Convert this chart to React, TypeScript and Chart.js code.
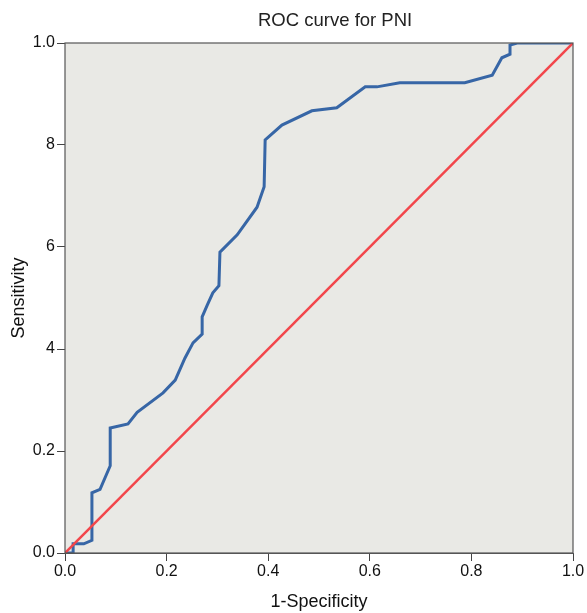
import React, { useEffect, useRef } from "react";
import { Chart, registerables } from "chart.js";

Chart.register(...registerables);

const fprValues = [0, 0.016, 0.016, 0.037, 0.053, 0.053, 0.069, 0.089, 0.089, 0.124, 0.142, 0.193, 0.217, 0.236, 0.252, 0.270, 0.270, 0.280, 0.291, 0.303, 0.305, 0.339, 0.378, 0.392, 0.394, 0.427, 0.486, 0.535, 0.561, 0.591, 0.614, 0.659, 0.787, 0.841, 0.860, 0.876, 0.876, 0.890, 1.0];
const tprValues = [0, 0, 0.018, 0.018, 0.025, 0.118, 0.125, 0.171, 0.245, 0.253, 0.276, 0.314, 0.339, 0.382, 0.412, 0.429, 0.463, 0.486, 0.510, 0.524, 0.590, 0.624, 0.678, 0.718, 0.810, 0.839, 0.867, 0.873, 0.892, 0.914, 0.914, 0.922, 0.922, 0.937, 0.971, 0.978, 0.996, 1.0, 1.0];
const refX = [0, 1];
const refY = [0, 1];
const xTickLabels = ["0.0", "0.2", "0.4", "0.6", "0.8", "1.0"];
const yTickLabels = ["0.0", "0.2", "4", "6", "8", "1.0"];
const chartTitle = "ROC curve for PNI";
const xTitle = "1-Specificity";
const yTitle = "Sensitivity";

const FONT = "'Liberation Sans', Arial, sans-serif";

const frame = {
  id: "frame",
  beforeDatasetsDraw(chart: any) {
    const { ctx, chartArea } = chart;
    ctx.save();
    ctx.fillStyle = "#e9e9e5";
    ctx.fillRect(chartArea.left, chartArea.top, chartArea.right - chartArea.left, chartArea.bottom - chartArea.top);
    ctx.restore();
  },
  afterDatasetsDraw(chart: any) {
    const { ctx, chartArea } = chart;
    ctx.save();
    ctx.strokeStyle = "#555555";
    ctx.lineWidth = 1.2;
    ctx.strokeRect(chartArea.left, chartArea.top, chartArea.right - chartArea.left, chartArea.bottom - chartArea.top);
    ctx.fillStyle = "#222";
    ctx.font = "18.5px " + FONT;
    ctx.textAlign = "left";
    ctx.textBaseline = "middle";
    ctx.fillText(chartTitle, chartArea.left + 193, 21);
    ctx.restore();
  },
};

export default function App() {
  const ref = useRef<HTMLCanvasElement>(null);
  useEffect(() => {
    if (!ref.current) return;
    const chart = new Chart(ref.current, {
      type: "scatter",
      data: {
        datasets: [
          {
            data: refX.map((x, i) => ({ x, y: refY[i] })),
            showLine: true,
            borderColor: "#f2464b",
            borderWidth: 2.5,
            pointRadius: 0,
          },
          {
            data: fprValues.map((x, i) => ({ x, y: tprValues[i] })),
            showLine: true,
            borderColor: "#3766a6",
            borderWidth: 3,
            pointRadius: 0,
            tension: 0,
          },
        ],
      },
      options: {
        animation: false,
        responsive: true,
        maintainAspectRatio: false,
        layout: { padding: { left: 0, right: 14, top: 43, bottom: 0 } },
        plugins: {
          legend: { display: false },
          tooltip: { enabled: false },
          title: { display: false },
        },
        scales: {
          x: {
            type: "linear",
            min: 0,
            max: 1,
            afterFit(scale: any) {
              scale.height = 60;
            },
            afterBuildTicks(scale: any) {
              scale.ticks = xTickLabels.map((_, i) => ({ value: i * 0.2 }));
            },
            ticks: {
              color: "#111",
              font: { family: FONT, size: 16 },
              padding: 1,
              maxRotation: 0,
              callback: (_v: any, i: number) => xTickLabels[i],
            },
            grid: { drawOnChartArea: false, drawTicks: true, tickLength: 8, color: "#444" },
            border: { color: "#555" },
            title: {
              display: true,
              text: xTitle,
              color: "#111",
              font: { family: FONT, size: 18 },
              padding: { top: 0, bottom: 0 },
            },
          },
          y: {
            type: "linear",
            min: 0,
            max: 1,
            afterFit(scale: any) {
              scale.width = 65;
            },
            afterBuildTicks(scale: any) {
              scale.ticks = yTickLabels.map((_, i) => ({ value: i * 0.2 }));
            },
            ticks: {
              color: "#111",
              font: { family: FONT, size: 16 },
              padding: 2,
              callback: (_v: any, i: number) => yTickLabels[i],
            },
            grid: { drawOnChartArea: false, drawTicks: true, tickLength: 8, color: "#444" },
            border: { color: "#555" },
            title: {
              display: true,
              text: yTitle,
              color: "#111",
              font: { family: FONT, size: 18 },
              padding: { top: 8, bottom: 0 },
            },
          },
        },
      },
      plugins: [frame],
    } as any);
    return () => chart.destroy();
  }, []);
  return (
    <div style={{ position: "fixed", left: 0, top: 0, width: 587, height: 613, background: "#fff" }}>
      <canvas ref={ref} />
    </div>
  );
}
